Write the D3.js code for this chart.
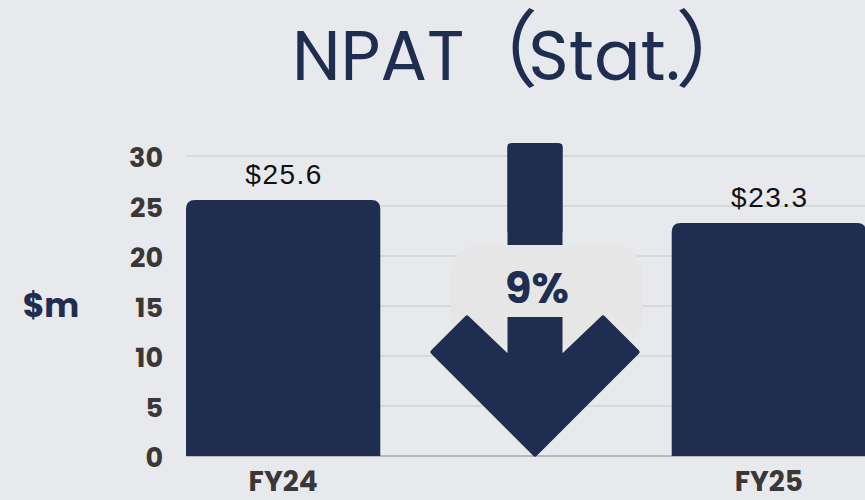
<!DOCTYPE html>
<html>
<head>
<meta charset="utf-8">
<script src="https://cdn.jsdelivr.net/npm/d3@7"></script>
<style>
  body { margin: 0; background: #e8e9ed; }
  svg { display: block; }
</style>
</head>
<body>
<div id="chart"></div>
<script>
// chart data
const categories = ["FY24", "FY25"];
const values = [25.6, 23.3];
const valueLabels = ["$25.6", "$23.3"];
const yTicks = [0, 5, 10, 15, 20, 25, 30];
const titleParts = ["NPAT", "（", "Stat.", "）"];
const unitText = "$m";
const changeText = "9%";

let width = 865, height = 500;
let navy = "#1f2d50";
let tickColor = "#3a3836";
let poppins = "Poppins, Inter, sans-serif";

let svg = d3.select("#chart")
    .append("svg")
    .attr("width", width)
    .attr("height", height);

svg.append("rect")
    .attr("width", width)
    .attr("height", height)
    .attr("fill", "#e8e9ed");

let xScale = d3.scaleBand()
    .domain(categories)
    .range([186, 866])
    .paddingInner(0.6)
    .paddingOuter(0);

let yScale = d3.scaleLinear()
    .domain([0, 30])
    .range([456, 156]);

// gridlines
svg.append("g")
    .selectAll("line")
    .data(yTicks.filter(d => d > 0))
    .enter()
    .append("line")
    .attr("x1", 186)
    .attr("x2", width)
    .attr("y1", d => yScale(d))
    .attr("y2", d => yScale(d))
    .attr("stroke", "#c6c7cb")
    .attr("stroke-width", 1.2);

svg.append("line")
    .attr("x1", 186)
    .attr("x2", width)
    .attr("y1", yScale(0))
    .attr("y2", yScale(0))
    .attr("stroke", "#8a8a8a")
    .attr("stroke-width", 1.2);

// y axis labels
let yAxis = d3.axisLeft(yScale)
    .tickValues(yTicks)
    .tickSize(0)
    .tickPadding(23);

let yAxisG = svg.append("g")
    .attr("transform", "translate(186,0)")
    .call(yAxis);
yAxisG.select(".domain").remove();
yAxisG.selectAll("text")
    .attr("fill", tickColor)
    .attr("font-family", poppins)
    .attr("font-weight", 700)
    .attr("font-size", 27)
    .attr("dy", "0.4em");

// bars with rounded tops
function topRounded(x, y, w, h, r) {
    return "M" + x + "," + (y + h) +
        "V" + (y + r) +
        "Q" + x + "," + y + " " + (x + r) + "," + y +
        "H" + (x + w - r) +
        "Q" + (x + w) + "," + y + " " + (x + w) + "," + (y + r) +
        "V" + (y + h) + "Z";
}

svg.append("g")
    .selectAll("path")
    .data(categories)
    .enter()
    .append("path")
    .attr("d", (d, i) => topRounded(xScale(d), yScale(values[i]), xScale.bandwidth(),
        yScale(0) - yScale(values[i]), 9))
    .attr("fill", navy);

// value labels
svg.append("g")
    .selectAll("text")
    .data(categories)
    .enter()
    .append("text")
    .attr("x", d => xScale(d) + xScale.bandwidth() / 2 + 1)
    .attr("y", (d, i) => yScale(values[i]) - 16)
    .attr("text-anchor", "middle")
    .attr("font-family", "'Liberation Sans', Arial, sans-serif")
    .attr("font-size", 28)
    .attr("letter-spacing", 1.5)
    .attr("fill", "#111")
    .text((d, i) => valueLabels[i]);

// x labels
svg.append("g")
    .selectAll("text")
    .data(categories)
    .enter()
    .append("text")
    .attr("x", d => xScale(d) + xScale.bandwidth() / 2)
    .attr("y", 491)
    .attr("text-anchor", "middle")
    .attr("font-family", poppins)
    .attr("font-weight", 700)
    .attr("font-size", 28)
    .attr("fill", tickColor)
    .text(d => d);

// change arrow
let gap0 = xScale(categories[0]) + xScale.bandwidth();
let gap1 = xScale(categories[1]);
let ax = (gap0 + gap1) / 2 + 9;
let tipY = yScale(0);
let stemTop = yScale(31.3);

svg.append("rect")
    .attr("x", ax - 84)
    .attr("y", yScale(21.1))
    .attr("width", 192)
    .attr("height", 100)
    .attr("rx", 28)
    .attr("fill", "#e6e6e6");

let arrowPts = [
    [-25, stemTop - tipY + 5], [-25, -95], [-68, -136], [-102, -102], [0, 0],
    [102, -102], [68, -136], [25, -95], [25, stemTop - tipY + 5]
];
svg.append("path")
    .attr("d", "M" + arrowPts.map(p => (ax + p[0]) + "," + (tipY + p[1] - 2)).join("L") + "Z")
    .attr("fill", navy)
    .attr("stroke", navy)
    .attr("stroke-width", 5)
    .attr("stroke-linejoin", "round");

svg.append("rect")
    .attr("x", ax - 27.5)
    .attr("y", stemTop)
    .attr("width", 55)
    .attr("height", yScale(22) - stemTop)
    .attr("rx", 5)
    .attr("fill", navy);

// label box over the stem
svg.append("rect")
    .attr("x", ax - 30)
    .attr("y", yScale(21.1))
    .attr("width", 60)
    .attr("height", yScale(13.9) - yScale(21.1))
    .attr("fill", "#e6e6e6");

svg.append("text")
    .attr("x", ax + 2)
    .attr("y", 303)
    .attr("text-anchor", "middle")
    .attr("font-family", poppins)
    .attr("font-weight", 700)
    .attr("font-size", 43)
    .attr("fill", navy)
    .text(changeText);

// unit label
svg.append("text")
    .attr("x", 51)
    .attr("y", 317)
    .attr("text-anchor", "middle")
    .attr("font-family", poppins)
    .attr("font-weight", 700)
    .attr("font-size", 33)
    .attr("fill", navy)
    .text(unitText);

// title
let title = svg.append("text")
    .attr("x", 292)
    .attr("y", 80)
    .attr("font-family", poppins)
    .attr("font-size", 69)
    .attr("fill", navy);
title.append("tspan").text(titleParts[0]);
title.append("tspan")
    .attr("font-family", "'Noto Sans CJK SC', sans-serif")
    .attr("font-size", 84)
    .attr("dx", -10)
    .text(titleParts[1]);
title.append("tspan").attr("dx", -10).text(titleParts[2]);
title.append("tspan")
    .attr("font-family", "'Noto Sans CJK SC', sans-serif")
    .attr("font-size", 84)
    .attr("dx", -5)
    .text(titleParts[3]);
</script>
</body>
</html>
